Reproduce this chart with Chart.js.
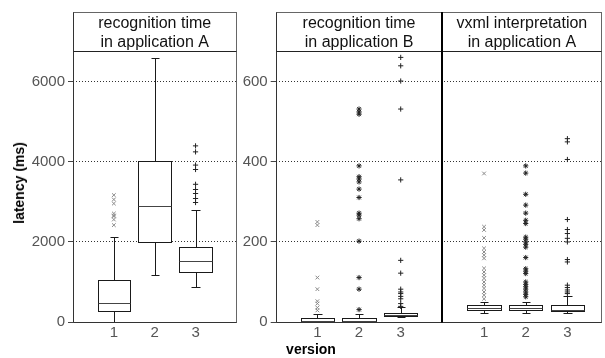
<!DOCTYPE html>
<html><head><meta charset="utf-8">
<script src="https://cdn.jsdelivr.net/npm/chart.js@4/dist/chart.umd.min.js"></script>
<style>
html,body{margin:0;padding:0;background:#fff;}
#wrap{position:relative;width:605px;height:358px;overflow:hidden;font-family:"Liberation Sans",Arial,sans-serif;}
#c1{position:absolute;left:0;top:0;}
#c2{position:absolute;left:240px;top:0;}
#ylab{position:absolute;left:19px;top:183px;transform:translate(-50%,-50%) rotate(-90deg);font-weight:bold;font-size:14px;color:#000;white-space:nowrap;}
#xlab{position:absolute;left:311px;top:341px;transform:translateX(-50%);font-weight:bold;font-size:14px;color:#000;white-space:nowrap;}
</style></head>
<body>
<div id="wrap">
<canvas id="c1" width="240" height="358"></canvas>
<canvas id="c2" width="365" height="358"></canvas>
<div id="ylab">latency (ms)</div>
<div id="xlab">version</div>
</div>
<script>
// ---- data ----
const versions = ['1', '2', '3'];
const yTicksA = [0, 2000, 4000, 6000];
const yTicksB = [0, 200, 400, 600];
const titleRecA = ['recognition time', 'in application A'];
const titleRecB = ['recognition time', 'in application B'];
const titleVxml = ['vxml interpretation', 'in application A'];

// recognition time in application A (ms)
const recA_min = [0, 1170, 875];
const recA_q1  = [275, 2010, 1240];
const recA_med = [485, 2890, 1517];
const recA_q3  = [1060, 4010, 1870];
const recA_max = [2135, 6600, 2800];
const recA_out1 = [3170, 3060, 2960, 2710, 2660, 2640, 2560, 2420];
const recA_out2 = [];
const recA_out3 = [4400, 4250, 3920, 3810, 3440, 3310, 3210, 3085, 2985];

// recognition time in application B (ms)
const recB_min = [0, 0, 12];
const recB_q1  = [0, 0, 16];
const recB_med = [3, 3, 18];
const recB_q3  = [10, 10, 22];
const recB_max = [21, 21, 37];
const recB_out1 = [250, 242, 111, 82, 52, 46, 36, 29];
const recB_out2 = [532, 525, 519, 390, 363, 357, 350, 332, 311, 272, 267, 258, 202, 111, 82, 31];
const recB_out3 = [661, 640, 602, 532, 355, 154, 122, 82, 75, 71, 64, 58, 46, 39];

// vxml interpretation in application A (ms)
const vxml_min = [22, 22, 22];
const vxml_q1  = [31, 31, 27];
const vxml_med = [34, 35, 30];
const vxml_q3  = [42, 42, 42];
const vxml_max = [50, 50, 65];
const vxml_out1 = [371, 238, 230, 210, 184, 175, 167, 159, 134, 125, 117, 109, 100, 92, 84, 75, 67, 58];
const vxml_out2 = [390, 372, 319, 292, 272, 254, 246, 212, 207, 200, 194, 187, 161, 133, 127, 121, 100, 94, 88, 82, 75, 69, 63];
const vxml_out3 = [458, 450, 406, 256, 231, 221, 209, 200, 156, 150, 92, 86, 80, 75, 71];

// ---- styling ----
const FONT = '"Liberation Sans", Arial, sans-serif';
const markerStyles = ['crossRot', 'star', 'cross'];
const markerColors = ['#8a8a8a', '#222', '#222'];

function outlierSets(pos, outs) {
  return outs.map((arr, i) => ({
    data: arr.map(v => ({x: pos[i], y: v})),
    pointStyle: markerStyles[i],
    borderColor: markerColors[i],
    backgroundColor: markerColors[i],
    pointRadius: 2.6,
    pointBorderWidth: 1,
    pointHoverRadius: 2.6
  }));
}

function px(v) { return Math.round(v) + 0.5; }

function boxPlugin(panels, headers) {
  return {
    id: 'boxes',
    beforeDatasetsDraw(chart) {
      const xs = chart.scales.x, ys = chart.scales.y, ctx = chart.ctx;
      ctx.save();
      ctx.strokeStyle = '#1a1a1a';
      ctx.lineWidth = 1;
      const line = (x1, y1, x2, y2) => { ctx.beginPath(); ctx.moveTo(x1, y1); ctx.lineTo(x2, y2); ctx.stroke(); };
      panels.forEach(p => {
        p.pos.forEach((pos, i) => {
          const xc = px(xs.getPixelForValue(pos));
          const xl = px(xs.getPixelForValue(pos - 0.4));
          const xr = px(xs.getPixelForValue(pos + 0.4));
          const cl = px(xs.getPixelForValue(pos - 0.1));
          const cr = px(xs.getPixelForValue(pos + 0.1));
          const yMin = px(ys.getPixelForValue(p.min[i]));
          const yQ1 = px(ys.getPixelForValue(p.q1[i]));
          const yMed = px(ys.getPixelForValue(p.med[i]));
          const yQ3 = px(ys.getPixelForValue(p.q3[i]));
          const yMax = px(ys.getPixelForValue(p.max[i]));
          line(xc, yQ3, xc, yMax); line(cl, yMax, cr, yMax);
          line(xc, yQ1, xc, yMin); line(cl, yMin, cr, yMin);
          ctx.fillStyle = '#fff';
          ctx.fillRect(xl, yQ3, xr - xl, yQ1 - yQ3);
          ctx.strokeRect(xl, yQ3, xr - xl, yQ1 - yQ3);
          ctx.strokeStyle = '#444';
          line(xl, yMed, xr, yMed);
          ctx.strokeStyle = '#1a1a1a';
        });
      });
      ctx.restore();
    },
    afterDraw(chart) {
      const xs = chart.scales.x, ctx = chart.ctx, a = chart.chartArea;
      const top = 12.5;
      ctx.save();
      ctx.strokeStyle = '#666';
      ctx.lineWidth = 1;
      ctx.strokeRect(px(a.left) , top, px(a.right) - px(a.left), px(a.bottom) - top);
      ctx.strokeStyle = '#333';
      ctx.beginPath(); ctx.moveTo(px(a.left), top); ctx.lineTo(px(a.left), px(a.bottom)); ctx.lineTo(px(a.right), px(a.bottom)); ctx.stroke();
      ctx.strokeStyle = '#222';
      ctx.beginPath(); ctx.moveTo(px(a.left), px(a.top)); ctx.lineTo(px(a.right), px(a.top)); ctx.stroke();
      headers.forEach(h => {
        const l = Math.max(a.left, xs.getPixelForValue(h.from));
        const r = Math.min(a.right, xs.getPixelForValue(h.to));
        if (h.divider) {
          ctx.strokeStyle = '#000'; ctx.lineWidth = 2;
          ctx.beginPath(); ctx.moveTo(Math.round(l), top - 0.5); ctx.lineTo(Math.round(l), px(a.bottom)); ctx.stroke();
        }
        ctx.fillStyle = '#111';
        ctx.font = '16px ' + FONT;
        ctx.textAlign = 'center';
        ctx.textBaseline = 'alphabetic';
        const cx = (l + r) / 2;
        ctx.fillText(h.text[0], cx, 28);
        ctx.fillText(h.text[1], cx, 46.5);
      });
      ctx.restore();
    }
  };
}

function makeChart(id, cfg) {
  const yTicks = cfg.yTicks;
  return new Chart(document.getElementById(id), {
    type: 'scatter',
    data: {datasets: cfg.datasets},
    options: {
      responsive: false,
      animation: false,
      devicePixelRatio: 1,
      layout: {padding: {left: 0, right: cfg.padRight, top: 51, bottom: 0}},
      plugins: {legend: {display: false}, tooltip: {enabled: false}},
      events: [],
      scales: {
        x: {
          type: 'linear', min: 0, max: cfg.xMax,
          afterFit: s => { s.height = 36; },
          afterBuildTicks: s => { s.ticks = cfg.xTickPos.map(v => ({value: v})); },
          grid: {display: false, drawTicks: false},
          border: {display: false},
          ticks: {
            color: '#555', font: {family: FONT, size: 15}, padding: 2,
            autoSkip: false, maxRotation: 0,
            callback: (v) => versions[(cfg.xTickPos.indexOf(v)) % 3]
          }
        },
        y: {
          type: 'linear', min: 0, max: cfg.yMax,
          afterFit: s => { s.width = cfg.yWidth; },
          afterBuildTicks: s => { s.ticks = yTicks.map(v => ({value: v})); },
          grid: {
            color: c => (c.tick && c.tick.value === 0) ? 'rgba(0,0,0,0)' : '#333',
            lineWidth: 1, tickLength: 5, tickColor: '#444', tickBorderDash: [], drawTicks: true
          },
          border: {display: false, dash: [1, 2]},
          ticks: {color: '#555', font: {family: FONT, size: 15}, padding: 3, callback: v => String(v)}
        }
      }
    },
    plugins: [boxPlugin(cfg.panels, cfg.headers)]
  });
}

const posA = [1, 2, 3];
const posV = [5, 6, 7];

makeChart('c1', {
  yTicks: yTicksA, yMax: 6770, yWidth: 73, padRight: 2, xMax: 4, xTickPos: posA,
  datasets: outlierSets(posA, [recA_out1, recA_out2, recA_out3]),
  panels: [{pos: posA, min: recA_min, q1: recA_q1, med: recA_med, q3: recA_q3, max: recA_max}],
  headers: [{from: 0, to: 4, text: titleRecA}]
});

makeChart('c2', {
  yTicks: yTicksB, yMax: 677, yWidth: 35.7, padRight: 3, xMax: 7.816, xTickPos: posA.concat(posV),
  datasets: outlierSets(posA, [recB_out1, recB_out2, recB_out3]).concat(outlierSets(posV, [vxml_out1, vxml_out2, vxml_out3])),
  panels: [
    {pos: posA, min: recB_min, q1: recB_q1, med: recB_med, q3: recB_q3, max: recB_max},
    {pos: posV, min: vxml_min, q1: vxml_q1, med: vxml_med, q3: vxml_q3, max: vxml_max}
  ],
  headers: [{from: 0, to: 4, text: titleRecB}, {from: 4, to: 8, text: titleVxml, divider: true}]
});
</script>
</body></html>
